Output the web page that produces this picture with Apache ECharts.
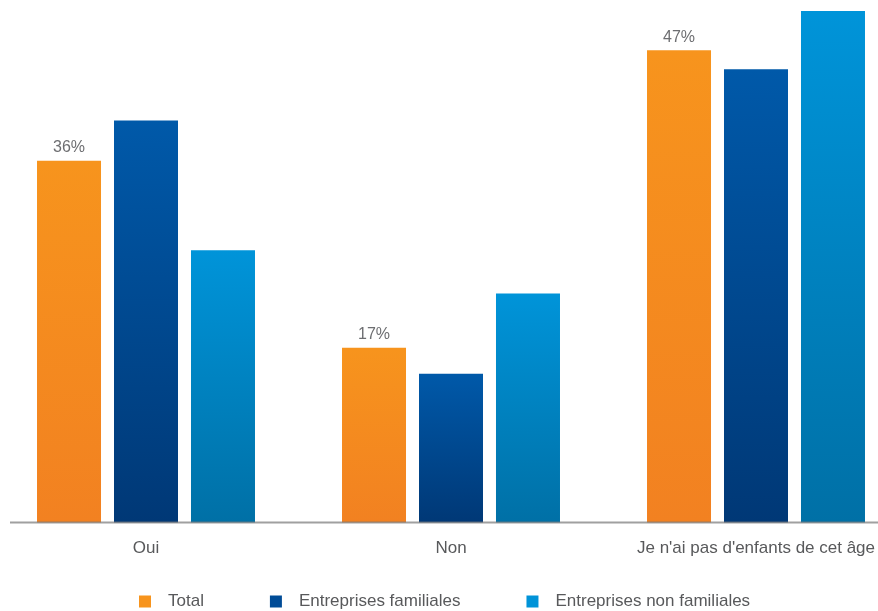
<!DOCTYPE html>
<html>
<head>
<meta charset="utf-8">
<script src="https://cdn.jsdelivr.net/npm/echarts@6/dist/echarts.min.js"></script>
<style>
html,body{margin:0;padding:0;background:#fff;}
#chart{width:878px;height:611px;}
</style>
</head>
<body>
<div id="chart"></div>
<script>
var categories = ["Oui", "Non", "Je n'ai pas d'enfants de cet âge"];
var seriesNames = ["Total", "Entreprises familiales", "Entreprises non familiales"];
var totalValues = [36, 17.4, 47];
var familialesValues = [40, 14.8, 45.1];
var nonFamilialesValues = [27.1, 22.8, 50.9];

var FONT = '"Liberation Sans", Arial, sans-serif';
function grad(top, bottom) {
  return new echarts.graphic.LinearGradient(0, 0, 0, 1, [
    {offset: 0, color: top}, {offset: 1, color: bottom}
  ]);
}
var chart = echarts.init(document.getElementById('chart'), null, {renderer: 'canvas'});
var option = {
  animation: false,
  backgroundColor: '#ffffff',
  grid: {left: -6.5, right: -30.5, top: 0, bottom: 88.5, containLabel: false, outerBoundsMode: 'none'},
  legend: {
    data: [
      {name: seriesNames[0], itemStyle: {color: '#F7941D'}},
      {name: seriesNames[1], itemStyle: {color: '#004C97'}},
      {name: seriesNames[2], itemStyle: {color: '#0093D8'}}
    ],
    left: 139, top: 593, padding: 0,
    icon: 'rect', itemWidth: 12, itemHeight: 12, itemGap: 66,
    textStyle: {color: '#58595b', fontFamily: FONT, fontSize: 17, padding: [0, 0, 0, 12], lineHeight: 17}
  },
  xAxis: {
    type: 'category', data: categories,
    axisLine: {show: false}, axisTick: {show: false},
    axisLabel: {interval: 0, hideOverlap: false, color: '#58595b', fontFamily: FONT, fontSize: 17, margin: 17}
  },
  yAxis: {type: 'value', show: false, min: 0, max: 52, splitLine: {show: false}},
  series: [
    {name: seriesNames[0], type: 'bar', data: totalValues, barWidth: 64, barGap: '20.3%',
     itemStyle: {color: grad('#F7941D', '#F28121')},
     label: {show: true, position: 'top', distance: 5, color: '#6d6e71', fontFamily: FONT, fontSize: 16,
             formatter: function(p){ return Math.round(p.value) + '%'; }}},
    {name: seriesNames[1], type: 'bar', data: familialesValues, barWidth: 64, barGap: '20.3%',
     itemStyle: {color: grad('#0059A9', '#003876')}},
    {name: seriesNames[2], type: 'bar', data: nonFamilialesValues, barWidth: 64, barGap: '20.3%',
     itemStyle: {color: grad('#0094D9', '#0070A6')}}
  ]
};
chart.setOption(option);
var baseY = chart.convertToPixel({yAxisIndex: 0}, 0);
chart.setOption({
  graphic: [{
    type: 'line', z: 100,
    shape: {x1: 10, y1: baseY, x2: 878, y2: baseY},
    style: {stroke: 'rgba(120,120,120,0.7)', lineWidth: 2}
  }]
});
</script>
</body>
</html>
